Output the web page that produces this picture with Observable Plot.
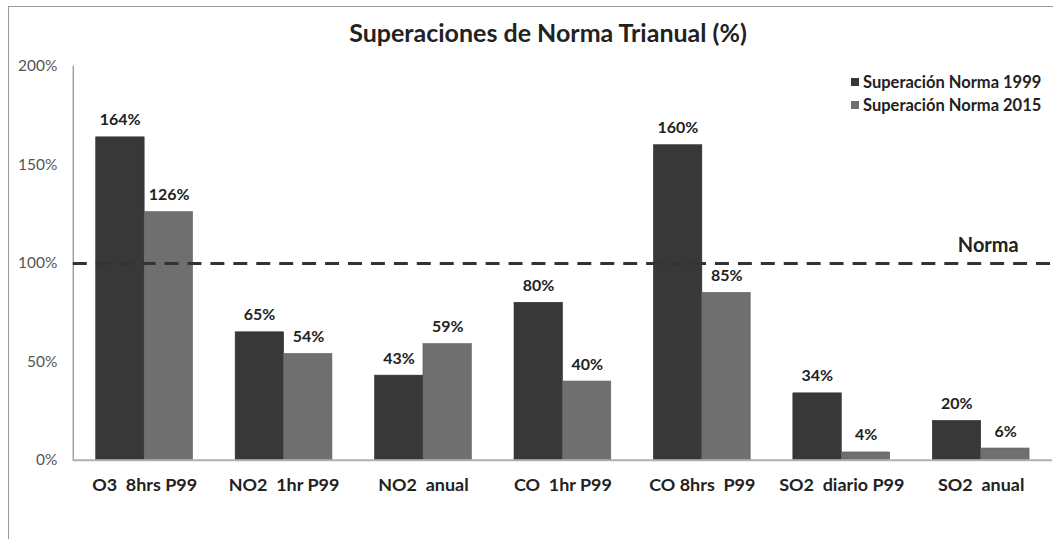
<!DOCTYPE html>
<html><head><meta charset="utf-8">
<script src="https://cdn.jsdelivr.net/npm/d3@7"></script>
<script src="https://cdn.jsdelivr.net/npm/@observablehq/plot@0.6"></script>
<style>
  html,body{margin:0;padding:0;background:#fff;width:1053px;height:539px;overflow:hidden;font-family:Lato,"Open Sans",sans-serif;}
  #frame{position:absolute;left:8px;top:6px;width:1060px;height:540px;border:1px solid #9a9a9a;}
  #title{position:absolute;left:0;top:17px;width:1096px;text-align:center;font-weight:bold;font-size:25px;color:#222;}
  #chart{position:absolute;left:0;top:50px;}
  #chart svg text{white-space:pre;}
  #legend{position:absolute;left:851px;top:71px;font-weight:bold;font-size:16.5px;color:#222;line-height:23px;white-space:nowrap;}
  #legend span.sw{display:inline-block;width:8px;height:8px;margin-right:4px;vertical-align:2px;}
</style>
</head><body>
<div id="frame"></div>
<div id="title">Superaciones de Norma Trianual (%)</div>
<div id="chart"></div>
<div id="legend"></div>
<script>
const categories = ["O3  8hrs P99","NO2  1hr P99","NO2  anual","CO  1hr P99","CO 8hrs  P99","SO2  diario P99","SO2  anual"];
const values1999 = [164, 65, 43, 80, 160, 34, 20];
const values2015 = [126, 54, 59, 40, 85, 4, 6];
const seriesNames = ["Superación Norma 1999","Superación Norma 2015"];
const seriesColors = ["#383838","#6f6f70"];
const yTicks = [0, 50, 100, 150, 200];
const normaValue = [100];
const normaLabel = "Norma";

const d1999 = categories.map((c,i)=>({category:c, value:values1999[i]}));
const d2015 = categories.map((c,i)=>({category:c, value:values2015[i]}));
const fmt = v => v + "%";
const labelFont = {fontSize: 16, fontWeight: "bold", fill: "#222"};

const plot = Plot.plot({
  width: 1056, height: 470,
  marginLeft: 73, marginRight: 1, marginTop: 16, marginBottom: 59,
  style: {fontFamily: "Lato, 'Open Sans', sans-serif", background: "transparent", overflow: "visible"},
  x: {domain: categories, paddingInner: 0.306, paddingOuter: 0.1645, round: false, label: null},
  y: {domain: [0, 200], label: null},
  marks: [
    Plot.axisY({ticks: yTicks, tickFormat: fmt, tickSize: 0, tickPadding: 16, fontSize: 15.5, fill: "#555", label: null}),
    Plot.axisX({tickSize: 0, tickPadding: 18, fontSize: 18, fontWeight: "bold", fill: "#222", label: null}),
    Plot.frame({anchor: "left", stroke: "#a0a0a0", strokeWidth: 1.5}),
    Plot.barY(d1999, {x: "category", y: "value", fill: seriesColors[0], insetRight: 48.5, stroke: "#2a2a2a", strokeWidth: 0.6}),
    Plot.barY(d2015, {x: "category", y: "value", fill: seriesColors[1], insetLeft: 48.5, stroke: "#5e5e5e", strokeWidth: 0.6}),
    Plot.ruleY([0], {stroke: "#b0b0b0", strokeWidth: 2}),
    Plot.ruleY(normaValue, {stroke: "#333", strokeWidth: 3, strokeDasharray: "14,9"}),
    Plot.text(normaValue, {y: d => d, text: () => normaLabel, frameAnchor: "right", textAnchor: "end", dx: -34, dy: -18, fontSize: 20, fontWeight: "bold", fill: "#222"}),
    Plot.text(d1999, {x: "category", y: "value", text: d => fmt(d.value), dx: -24.5, dy: -12, lineAnchor: "bottom", ...labelFont}),
    Plot.text(d2015, {x: "category", y: "value", text: d => fmt(d.value), dx: 24.5, dy: -12, lineAnchor: "bottom", ...labelFont})
  ]
});
document.getElementById("chart").appendChild(plot);

const lg = document.getElementById("legend");
seriesNames.forEach((n,i)=>{
  const row = document.createElement("div");
  row.innerHTML = `<span class="sw" style="background:${seriesColors[i]}"></span>${n}`;
  lg.appendChild(row);
});
</script>
</body></html>
